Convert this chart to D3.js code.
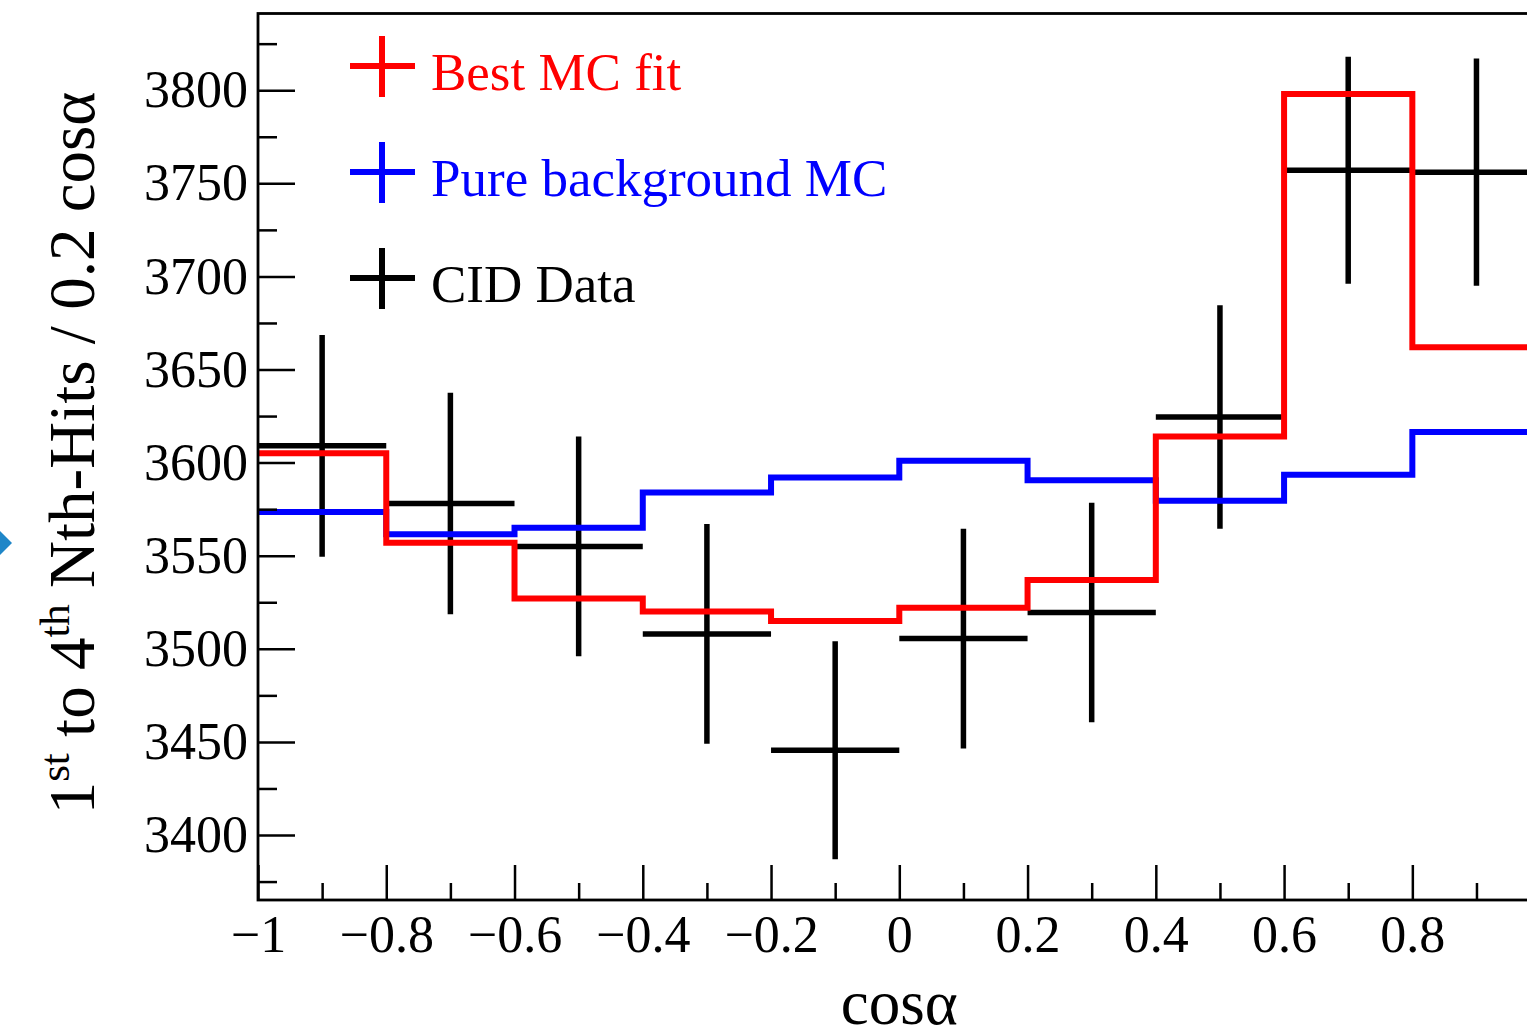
<!DOCTYPE html>
<html>
<head>
<meta charset="utf-8">
<script src="https://cdn.jsdelivr.net/npm/d3@7"></script>
<style>
  body { margin: 0; background: #fff; }
  svg { display: block; font-family: "Liberation Serif", "Times New Roman", serif; }
</style>
</head>
<body>
<div id="chart"></div>
<script>
// bins of 0.2 in cos(alpha)
var binEdges = [-1, -0.8, -0.6, -0.4, -0.2, 0, 0.2, 0.4, 0.6, 0.8, 1];
var binCenters = [-0.9, -0.7, -0.5, -0.3, -0.1, 0.1, 0.3, 0.5, 0.7, 0.9];

var bestFit    = [3605, 3557, 3527, 3520, 3515, 3522, 3537, 3614, 3798, 3662];
var background = [3573.5, 3561.5, 3565, 3584, 3592, 3601, 3590.5, 3579.5, 3593.5, 3616.5];
var cidData    = [3609, 3578, 3555, 3508, 3445.5, 3505.5, 3519.5, 3624.5, 3757, 3756];
var cidErr     = [59.5, 59.5, 59, 59, 58.5, 59, 59, 60, 61, 61];

var xMajor = [-1, -0.8, -0.6, -0.4, -0.2, 0, 0.2, 0.4, 0.6, 0.8];
var xMinor = [-0.9, -0.7, -0.5, -0.3, -0.1, 0.1, 0.3, 0.5, 0.7, 0.9];
var yMajor = [3400, 3450, 3500, 3550, 3600, 3650, 3700, 3750, 3800];
var yMinor = [3375, 3425, 3475, 3525, 3575, 3625, 3675, 3725, 3775, 3825];

var legendLabels = ['Best MC fit', 'Pure background MC', 'CID Data'];
var legendColors = ['#ff0000', '#0000ff', '#000000'];

var width = 1527, height = 1034;
var padLeft = 258, padRight = 1540.6, padTop = 13.5, padBottom = 900;

var svg = d3.select('#chart').append('svg')
    .attr('width', width)
    .attr('height', height);

var x = d3.scaleLinear().domain([-1, 1]).range([padLeft, padRight]);
var y = d3.scaleLinear().domain([3365.1, 3841.2]).range([padBottom, padTop]);

function fmtX(d){
    if (d === 0) return '0';
    var s = Math.abs(d) === 1 ? '1' : String(Math.abs(d));
    return (d < 0 ? '\u2212' : '') + s;
}

// stray blue mark at the left border
svg.append('path')
    .attr('d', 'M-12,543 L0,531 L12,543 L0,555 Z')
    .style('fill', '#1f86c8');

// data points (drawn first, hists on top)
var pts = svg.append('g').attr('class', 'data');
binCenters.forEach(function(c, i){
    pts.append('line')
        .attr('x1', x(binEdges[i])).attr('x2', x(binEdges[i + 1]))
        .attr('y1', y(cidData[i])).attr('y2', y(cidData[i]))
        .style('stroke', '#000').style('stroke-width', 5.5);
    pts.append('line')
        .attr('x1', x(c)).attr('x2', x(c))
        .attr('y1', y(cidData[i] + cidErr[i])).attr('y2', y(cidData[i] - cidErr[i]))
        .style('stroke', '#000').style('stroke-width', 5.5);
});

function stepLine(values){
    var p = values.map(function(v, i){ return [binEdges[i], v]; });
    p.push([binEdges[binEdges.length - 1], values[values.length - 1]]);
    return d3.line()
        .x(function(d){ return x(d[0]); })
        .y(function(d){ return y(d[1]); })
        .curve(d3.curveStepAfter)(p);
}

svg.append('path')
    .attr('d', stepLine(background))
    .style('fill', 'none').style('stroke', '#0000ff').style('stroke-width', 6);

svg.append('path')
    .attr('d', stepLine(bestFit))
    .style('fill', 'none').style('stroke', '#ff0000').style('stroke-width', 6);

// frame
svg.append('rect')
    .attr('x', padLeft).attr('y', padTop)
    .attr('width', padRight - padLeft).attr('height', padBottom - padTop)
    .style('fill', 'none').style('stroke', '#000').style('stroke-width', 2.8);

// y axis
var yAxis = svg.append('g')
    .attr('transform', 'translate(' + padLeft + ',0)')
    .call(d3.axisLeft(y).tickValues(yMajor).tickSize(-37).tickPadding(10).tickFormat(d3.format('d')));
var yAxisMinor = svg.append('g')
    .attr('transform', 'translate(' + padLeft + ',0)')
    .call(d3.axisLeft(y).tickValues(yMinor).tickSize(-19).tickFormat(''));

// x axis
var xAxis = svg.append('g')
    .attr('transform', 'translate(0,' + padBottom + ')')
    .call(d3.axisBottom(x).tickValues(xMajor).tickSize(-35).tickPadding(15).tickFormat(fmtX));
var xAxisMinor = svg.append('g')
    .attr('transform', 'translate(0,' + padBottom + ')')
    .call(d3.axisBottom(x).tickValues(xMinor).tickSize(-17).tickFormat(''));

[yAxis, yAxisMinor, xAxis, xAxisMinor].forEach(function(g){
    g.select('.domain').remove();
    g.selectAll('line').style('stroke', '#000').style('stroke-width', 2.5);
    g.selectAll('text')
        .style('font-family', '"Liberation Serif", "Times New Roman", serif')
        .style('font-size', '52px')
        .style('fill', '#000');
});

// axis titles
svg.append('text')
    .attr('x', (padLeft + padRight) / 2)
    .attr('y', 1024)
    .attr('text-anchor', 'middle')
    .style('font-size', '63px')
    .text('cos\u03b1');

var yTitle = svg.append('text')
    .attr('transform', 'translate(94,453) rotate(-90)')
    .attr('text-anchor', 'middle')
    .style('font-size', '65px');
yTitle.append('tspan').text('1');
yTitle.append('tspan').attr('dy', -25).style('font-size', '43px').text('st');
yTitle.append('tspan').attr('dy', 25).text(' to 4');
yTitle.append('tspan').attr('dy', -25).style('font-size', '43px').text('th');
yTitle.append('tspan').attr('dy', 25).text(' Nth-Hits / 0.2 cos\u03b1');

// legend
var legend = svg.append('g').attr('class', 'legend');
legendLabels.forEach(function(label, i){
    var cy = 66 + i * 106;
    var g = legend.append('g');
    g.append('line')
        .attr('x1', 350).attr('x2', 415).attr('y1', cy).attr('y2', cy)
        .style('stroke', legendColors[i]).style('stroke-width', 6);
    g.append('line')
        .attr('x1', 382).attr('x2', 382).attr('y1', cy - 30).attr('y2', cy + 31)
        .style('stroke', legendColors[i]).style('stroke-width', 6);
    g.append('text')
        .attr('x', 431).attr('y', cy + 24)
        .style('font-size', '53px')
        .style('fill', legendColors[i])
        .text(label);
});
</script>
</body>
</html>
